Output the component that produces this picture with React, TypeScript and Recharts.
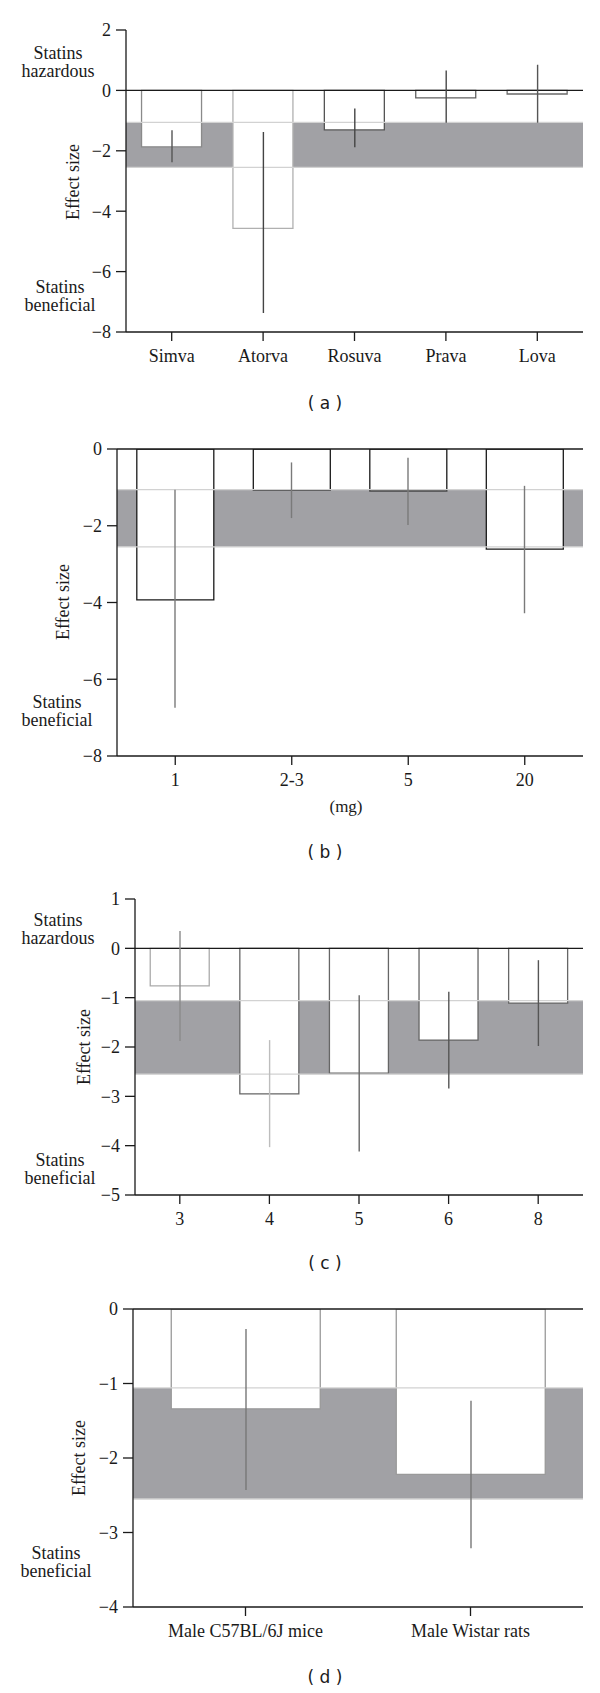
import React from "react";
import {
  ComposedChart,
  Bar,
  XAxis,
  YAxis,
  ReferenceArea,
  ReferenceLine,
  Cell,
} from "recharts";

// (a) by statin
const statinNames = ["Simva", "Atorva", "Rosuva", "Prava", "Lova"];
const statinEffect = [-1.87, -4.57, -1.31, -0.25, -0.12];
const statinLow = [-2.38, -7.37, -1.88, -1.07, -1.07];
const statinHigh = [-1.32, -1.38, -0.6, 0.66, 0.85];
const statinTicks = [2, 0, -2, -4, -6, -8];

// (b) by dose
const doseNames = ["1", "2-3", "5", "20"];
const doseEffect = [-3.93, -1.07, -1.09, -2.61];
const doseLow = [-6.74, -1.8, -1.98, -4.28];
const doseHigh = [-1.06, -0.35, -0.23, -0.96];
const doseTicks = [0, -2, -4, -6, -8];

// (c) by duration
const weekNames = ["3", "4", "5", "6", "8"];
const weekEffect = [-0.76, -2.95, -2.53, -1.86, -1.11];
const weekLow = [-1.88, -4.03, -4.12, -2.84, -1.98];
const weekHigh = [0.35, -1.86, -0.95, -0.88, -0.24];
const weekTicks = [1, 0, -1, -2, -3, -4, -5];

// (d) by animal
const animalNames = ["Male C57BL/6J mice", "Male Wistar rats"];
const animalEffect = [-1.34, -2.22];
const animalLow = [-2.43, -3.21];
const animalHigh = [-0.27, -1.23];
const animalTicks = [0, -1, -2, -3, -4];

// pooled interval (grey band)
const pooledLow = -2.55;
const pooledHigh = -1.06;

const SERIF =
  "Liberation Serif, Times New Roman, Tinos, DejaVu Serif, Noto Serif, serif";
const SANS = "DejaVu Sans, Verdana, sans-serif";
const INK = "#1a1a1a";

const minus = (v: number) => String(v).replace("-", "\u2212");

type PanelProps = {
  names: string[];
  effect: number[];
  low: number[];
  high: number[];
  ticks: number[];
  top: number;
  height: number;
  marginTop: number;
  marginBottom: number;
  axisWidth: number;
  barStroke: string[];
  errStroke: string[];
};

const Panel = ({
  names,
  effect,
  low,
  high,
  ticks,
  top,
  height,
  marginTop,
  marginBottom,
  axisWidth,
  barStroke,
  errStroke,
}: PanelProps) => {
  const data = names.map((name, i) => ({
    name,
    effect: effect[i],
    range: [low[i], high[i]],
  }));
  const domain = [Math.min(...ticks), Math.max(...ticks)];
  const ErrLine = (p: any) => {
    const cx = p.x + p.width / 2;
    return (
      <line
        x1={cx}
        x2={cx}
        y1={p.y}
        y2={p.y + p.height}
        stroke={errStroke[p.index]}
        strokeWidth={1.4}
      />
    );
  };
  return (
    <div style={{ position: "absolute", left: 0, top }}>
      <ComposedChart
        width={600}
        height={height}
        data={data}
        barCategoryGap="17%"
        margin={{ top: marginTop, right: 17, bottom: marginBottom, left: 0 }}
      >
        <ReferenceArea
          y1={pooledLow}
          y2={pooledHigh}
          fill="#a1a1a5"
          fillOpacity={1}
          stroke="none"
          zIndex={50}
        />
        <XAxis
          dataKey="name"
          height={40}
          tickSize={9}
          tickMargin={8}
          interval={0}
          axisLine={{ stroke: INK, strokeWidth: 1.3 }}
          tickLine={{ stroke: INK, strokeWidth: 1.3 }}
          tick={{ fontFamily: SERIF, fontSize: 18, fill: INK }}
        />
        <XAxis xAxisId="err" dataKey="name" hide />
        <YAxis
          type="number"
          width={axisWidth}
          domain={domain}
          ticks={ticks}
          interval={0}
          allowDataOverflow
          tickSize={10}
          tickMargin={5}
          tickFormatter={minus}
          axisLine={{ stroke: INK, strokeWidth: 1.3 }}
          tickLine={{ stroke: INK, strokeWidth: 1.3 }}
          tick={{ fontFamily: SERIF, fontSize: 18, fill: INK }}
        />
        <Bar
          dataKey="effect"
          fill="#ffffff"
          strokeWidth={1.3}
          isAnimationActive={false}
          zIndex={300}
        >
          {data.map((d, i) => (
            <Cell key={d.name} fill="#ffffff" stroke={barStroke[i]} />
          ))}
        </Bar>
        <ReferenceLine y={pooledHigh} stroke="#d2d2d2" strokeWidth={1.3} zIndex={350} />
        <ReferenceLine y={pooledLow} stroke="#d2d2d2" strokeWidth={1.3} zIndex={350} />
        <ReferenceLine y={0} stroke={INK} strokeWidth={1.3} zIndex={360} />
        <Bar
          xAxisId="err"
          dataKey="range"
          barSize={2}
          shape={ErrLine}
          isAnimationActive={false}
          zIndex={400}
        />
      </ComposedChart>
    </div>
  );
};

const Note = ({ x, y, lines }: { x: number; y: number; lines: string[] }) => (
  <div
    style={{
      position: "absolute",
      left: x,
      top: y - 9,
      transform: "translateX(-50%)",
      fontFamily: SERIF,
      fontSize: 18,
      lineHeight: "18px",
      textAlign: "center",
      color: INK,
      whiteSpace: "nowrap",
    }}
  >
    {lines.map((l) => (
      <div key={l}>{l}</div>
    ))}
  </div>
);

const YTitle = ({ x, y }: { x: number; y: number }) => (
  <div
    style={{
      position: "absolute",
      left: x,
      top: y,
      transform: "translate(-50%, -50%) rotate(-90deg)",
      fontFamily: SERIF,
      fontSize: 18,
      color: INK,
      whiteSpace: "nowrap",
    }}
  >
    Effect size
  </div>
);

const Caption = ({ x, y, text, font }: { x: number; y: number; text: string; font: string }) => (
  <div
    style={{
      position: "absolute",
      left: x,
      top: y,
      transform: "translate(-50%, -50%)",
      fontFamily: font,
      fontSize: 17,
      color: INK,
      whiteSpace: "pre",
    }}
  >
    {text}
  </div>
);

export default function App() {
  return (
    <div
      style={{
        position: "absolute",
        left: 0,
        top: 0,
        width: 600,
        height: 1693,
        background: "#fff",
        overflow: "hidden",
      }}
    >
      <Panel
        names={statinNames}
        effect={statinEffect}
        low={statinLow}
        high={statinHigh}
        ticks={statinTicks}
        top={0}
        height={420}
        marginTop={30}
        marginBottom={48}
        axisWidth={126}
        barStroke={["#8a8a8a", "#b0b0b0", "#555555", "#606060", "#6a6a6a"]}
        errStroke={["#555555", "#444444", "#444444", "#484848", "#555555"]}
      />
      <Note x={58} y={53} lines={["Statins", "hazardous"]} />
      <Note x={60} y={287} lines={["Statins", "beneficial"]} />
      <YTitle x={73} y={182} />
      <Caption x={325} y={403} text="( a )" font={SANS} />

      <Panel
        names={doseNames}
        effect={doseEffect}
        low={doseLow}
        high={doseHigh}
        ticks={doseTicks}
        top={420}
        height={440}
        marginTop={29}
        marginBottom={64}
        axisWidth={117}
        barStroke={["#1a1a1a", "#1a1a1a", "#1a1a1a", "#1a1a1a"]}
        errStroke={["#7a7a7a", "#7a7a7a", "#7a7a7a", "#7a7a7a"]}
      />
      <Note x={57} y={702} lines={["Statins", "beneficial"]} />
      <YTitle x={63} y={602} />
      <Caption x={346} y={807} text="(mg)" font={SERIF} />
      <Caption x={325} y={852} text="( b )" font={SANS} />

      <Panel
        names={weekNames}
        effect={weekEffect}
        low={weekLow}
        high={weekHigh}
        ticks={weekTicks}
        top={860}
        height={420}
        marginTop={39}
        marginBottom={45}
        axisWidth={135}
        barStroke={["#ababab", "#666666", "#666666", "#666666", "#666666"]}
        errStroke={["#8a8a8a", "#bdbdbd", "#666666", "#555555", "#555555"]}
      />
      <Note x={58} y={920} lines={["Statins", "hazardous"]} />
      <Note x={60} y={1160} lines={["Statins", "beneficial"]} />
      <YTitle x={84} y={1047} />
      <Caption x={325} y={1263} text="( c )" font={SANS} />

      <Panel
        names={animalNames}
        effect={animalEffect}
        low={animalLow}
        high={animalHigh}
        ticks={animalTicks}
        top={1280}
        height={413}
        marginTop={29}
        marginBottom={46}
        axisWidth={133}
        barStroke={["#9a9a9a", "#9a9a9a"]}
        errStroke={["#777777", "#777777"]}
      />
      <Note x={56} y={1553} lines={["Statins", "beneficial"]} />
      <YTitle x={79} y={1458} />
      <Caption x={325} y={1677} text="( d )" font={SANS} />
    </div>
  );
}
